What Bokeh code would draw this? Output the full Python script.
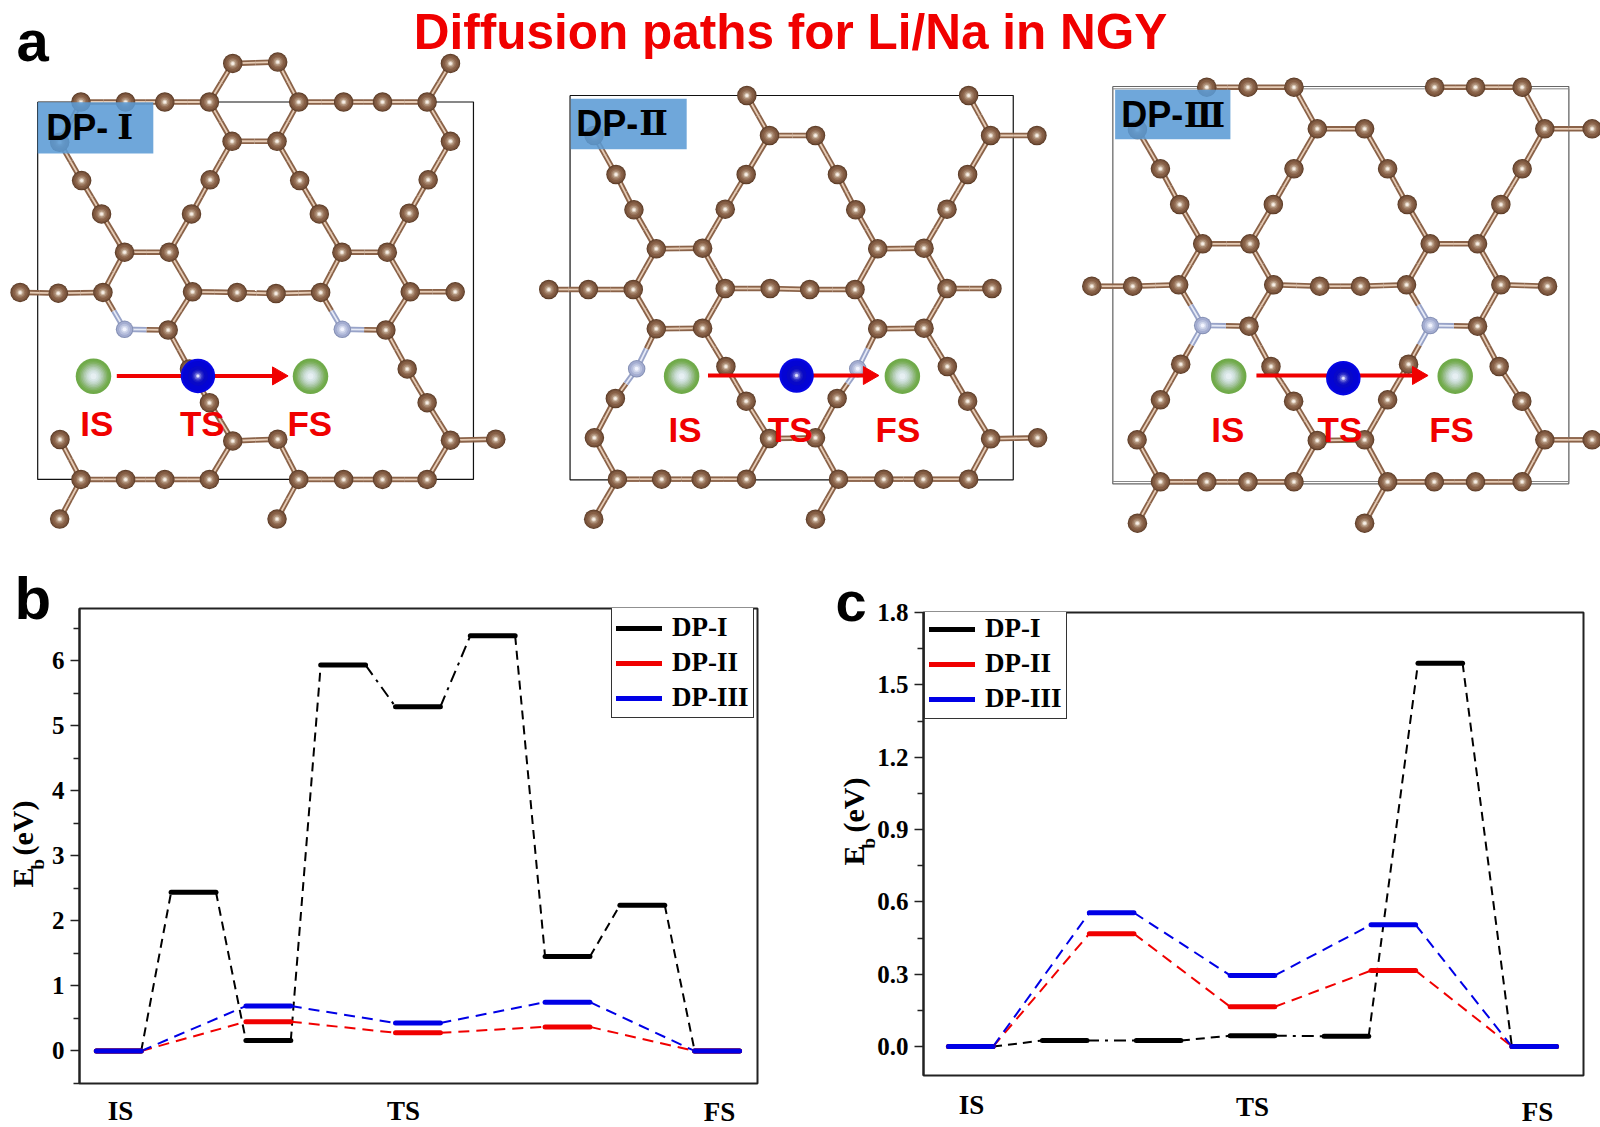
import math
from bokeh.plotting import figure
from bokeh.layouts import column, row
from bokeh.models import Legend, LegendItem, FixedTicker, NumeralTickFormatter
from bokeh.core.properties import value
from bokeh.embed import file_html
from bokeh.resources import INLINE

# ---------- panel a: atom sites ----------
dp1_cx = [687,820,238,370,486,618,882,1015,1130,1262,1331,175,685,818,1331,240,620,885,1265,299,565,943,1209,
          367,499,1010,1144,58,171,303,568,700,815,947,1212,1345,496,1140,1203,559,618,1262,176,687,820,1331,1465,
          238,370,486,618,882,1015,1130,1262,175,818]
dp1_cy = [181,177,292,292,292,292,292,292,292,292,181,408,405,405,405,518,516,518,516,614,614,614,612,
          724,724,724,724,840,842,840,838,840,843,840,838,838,948,948,1060,1060,1157,1157,1263,1267,1262,1265,1262,
          1378,1378,1378,1378,1378,1378,1378,1378,1492,1492]
dp1_nx = [367,1011]
dp1_ny = [946,946]

dp2_cx = [640,1296,188,707,843,1361,1498,253,638,908,1293,306,576,962,1232,372,509,1027,1164,
          54,171,304,576,709,826,960,1232,1365,372,509,1027,1164,578,1233,251,638,907,1293,
          189,707,843,1361,1500,257,388,505,639,911,1045,1162,1296,187,843]
dp2_cy = [105,105,225,225,225,225,225,342,342,342,342,448,446,448,446,565,563,565,563,
          687,687,687,684,684,687,687,684,684,805,803,805,803,918,918,1014,1022,1014,1022,
          1132,1134,1132,1135,1132,1256,1256,1256,1256,1256,1256,1256,1256,1376,1376]
dp2_nx = [314,968]
dp2_ny = [925,925]

dp3_cx = [403,525,661,1077,1198,1336,198,730,870,1403,1543,266,661,938,1336,323,600,996,1273,391,531,1064,1204,
          63,184,320,601,737,858,994,1273,1411,528,1204,326,593,1000,1268,266,660,938,1335,
          197,730,870,1403,1543,266,403,525,661,938,1076,1198,1336,198,870]
dp3_cy = [80,80,80,80,80,80,207,205,205,205,205,325,325,325,325,432,432,432,432,550,550,550,550,
          677,677,673,673,677,677,673,673,677,797,797,911,918,911,918,1018,1022,1018,1022,
          1138,1140,1138,1138,1138,1264,1264,1264,1264,1264,1264,1264,1264,1388,1388]
dp3_nx = [391,1064]
dp3_ny = [795,795]

state_names = ["IS", "TS", "FS"]
dp1_sites_x = [275,584,917]
dp1_sites_y = [1081,1080,1081]
dp1_names_x = [285,597,915]
dp1_names_y = 1218
dp2_sites_x = [447,787,1100]
dp2_sites_y = [947,945,947]
dp2_names_x = [457,768,1087]
dp2_names_y = 1108
dp3_sites_x = [468,807,1138]
dp3_sites_y = [947,953,947]
dp3_names_x = [465,797,1127]
dp3_names_y = 1108

# ---------- panels b and c: energy levels ----------
series_names = ["DP-I", "DP-II", "DP-III"]
series_colors = ["#000000", "#f00000", "#0000e6"]

b_x_black = [1,2,3,4,5,6,7,8,9]
b_black = [0,2.44,0.16,5.93,5.29,6.38,1.45,2.24,0]
b_x_color = [1,3,5,7,9]
b_red = [0,0.45,0.28,0.37,0]
b_blue = [0,0.69,0.43,0.75,0]

c_x_black = [1,3,5,7,9,11,13]
c_black = [0,0.025,0.025,0.045,0.043,1.59,0]
c_x_color = [1,4,7,10,13]
c_red = [0,0.468,0.165,0.315,0]
c_blue = [0,0.555,0.295,0.505,0]

SERIF = "Liberation Serif"
SANS = "Liberation Sans"
NUMERAL = "DejaVu Serif"
RED = "#f00000"

# ---------- page-wide figure: structures and all free text ----------
pa = figure(width=1600, height=1127, x_range=(0,1600), y_range=(1127,0), min_border=0,
            toolbar_location=None, output_backend="svg", outline_line_color=None)
pa.axis.visible = False
pa.grid.visible = False

def txt(p, x, y, s, size, color="#000000", font=SANS, align="center", base="middle", angle=0.0):
    p.text([x],[y],text=[s],text_font=value(font),text_font_size=f"{size}px",text_font_style="bold",
           text_color=color,text_align=align,text_baseline=base,angle=angle)

def balls(p, xs, ys, layers):
    for size,color in layers:
        p.scatter(xs, ys, size=size, marker="circle", fill_color=color, line_color=None)

C_LAYERS = [(19.5,"#5a3a24"),(18,"#74503a"),(15,"#865f45"),(11,"#97725a"),(8,"#ad9078"),(5,"#d6c3b0"),(3,"#f6eee6")]
N_LAYERS = [(17.5,"#8590b5"),(15.5,"#a3acd0"),(11,"#b9c1de"),(7,"#d2d8ec"),(4,"#f2f4ff")]
G_LAYERS = [(35.5,"#6faa49"),(31,"#76ad52"),(28,"#83b367"),(25,"#92ba81"),(22,"#a2c39a"),(19,"#b2cdb2"),
            (16,"#c0d6c6"),(13,"#cddfd8"),(10,"#d8e6e6"),(6,"#e6eff2")]
B_LAYERS = [(34.5,"#0606e4"),(30,"#0404d4"),(20,"#0808c8"),(13,"#1818c4"),(10,"#3030c8"),(7,"#6464d8"),(4,"#b0b0f0"),(2.5,"#e8e8ff")]

def panel(cx, cy, nx, ny, ox, oy, sx, sy, cut, rects, box, label, arrow, sx_list, sy_list, nm_x, nm_y):
    X = lambda v: ox + v/sx
    Y = lambda v: oy + v/sy
    for (l,r,t,b,col,w) in rects:
        pa.line([X(l),X(r),X(r),X(l),X(l)],[Y(t),Y(t),Y(b),Y(b),Y(t)],line_color=col,line_width=w)
    all_x = cx+nx; all_y = cy+ny
    kinds = ["c"]*len(cx)+["n"]*len(nx)
    outer = {"c":"#8a6248","n":"#98a3c8"}
    inner = {"c":"#e6ccb6","n":"#e6eaf6"}
    sg = {"x0":[],"y0":[],"x1":[],"y1":[],"o":[],"i":[]}
    for i in range(len(all_x)):
        for j in range(i+1,len(all_x)):
            d = math.hypot(all_x[i]-all_x[j],all_y[i]-all_y[j])
            if d < cut:
                mx,my = (all_x[i]+all_x[j])/2,(all_y[i]+all_y[j])/2
                for k,(a,b) in ((kinds[i],(all_x[i],all_y[i])),(kinds[j],(all_x[j],all_y[j]))):
                    sg["x0"].append(X(a)); sg["y0"].append(Y(b)); sg["x1"].append(X(mx)); sg["y1"].append(Y(my))
                    sg["o"].append(outer[k]); sg["i"].append(inner[k])
    pa.segment(sg["x0"],sg["y0"],sg["x1"],sg["y1"],line_color=sg["o"],line_width=5.5)
    pa.segment(sg["x0"],sg["y0"],sg["x1"],sg["y1"],line_color=sg["i"],line_width=1.8)
    balls(pa,[X(v) for v in cx],[Y(v) for v in cy],C_LAYERS)
    balls(pa,[X(v) for v in nx],[Y(v) for v in ny],N_LAYERS)
    l,r,t,b = box
    pa.quad(left=[X(l)],right=[X(r)],top=[Y(t)],bottom=[Y(b)],fill_color="#5b9bd5",fill_alpha=0.88,line_color=None)
    txt(pa,X(label[1]),Y(label[2]),label[0],36,align="left",font=SANS)
    txt(pa,X(label[4]),Y(label[2]),label[3],34,align="left",font=NUMERAL)
    ax0,ax1,ay = arrow
    pa.segment([X(ax0)],[Y(ay)],[X(ax1-38)],[Y(ay)],line_color=RED,line_width=4)
    pa.scatter([X(ax1-30)],[Y(ay)],marker="triangle",size=18,angle=-math.pi/2,fill_color=RED,line_color=RED)
    balls(pa,[X(sx_list[0]),X(sx_list[2])],[Y(sy_list[0]),Y(sy_list[2])],G_LAYERS)
    balls(pa,[X(sx_list[1])],[Y(sy_list[1])],B_LAYERS)
    for s,v in zip(state_names,nm_x):
        txt(pa,X(v),Y(nm_y),s,35,color=RED)

panel(dp1_cx,dp1_cy,dp1_nx,dp1_ny,0,0,2.958,2.877,145,
      [(110,1399,292,1378,"#111111",1.2)],(110,452,293,440),("DP-",135,365,"Ⅰ",345),(344,850,1080),
      dp1_sites_x,dp1_sites_y,dp1_names_x,dp1_names_y)
panel(dp2_cx,dp2_cy,dp2_nx,dp2_ny,530,60,2.958,3.0,148,
      [(117,1428,105,1258,"#111111",1.2)],(119,462,115,266),("DP-",135,188,"Ⅱ",322),(525,1030,945),
      dp2_sites_x,dp2_sites_y,dp2_names_x,dp2_names_y)
panel(dp3_cx,dp3_cy,dp3_nx,dp3_ny,1070,60,2.958,3.0,150,
      [(125,1474,78,1270,"#666666",1.2),(125,1474,85,1263,"#888888",1.0)],(132,473,88,236),("DP-",150,163,"Ⅲ",335),(550,1057,945),
      dp3_sites_x,dp3_sites_y,dp3_names_x,dp3_names_y)

txt(pa,790,31,"Diffusion paths for Li/Na in NGY",49.5,color=RED)
txt(pa,16,40,"a",58,align="left",base="alphabetic")
txt(pa,14,598,"b",60,align="left",base="alphabetic")
txt(pa,835,601,"c",56,align="left",base="alphabetic")

# axis titles of the charts (the subscript is a separate piece)
for ax,e,b_,ev in ((22,887,869,855),(853,865,848,832)):
    txt(pa,ax,e,"E",30,font=SERIF,align="left",angle=math.pi/2)
    txt(pa,ax+15,b_,"b",19,font=SERIF,align="left",angle=math.pi/2)
    txt(pa,ax,ev,"(eV)",30,font=SERIF,align="left",angle=math.pi/2)

for s,x,y in zip(state_names,[120,403,719],[1110,1110,1111]):
    txt(pa,x,y,s,27,font=SERIF)
for s,x,y in zip(state_names,[971,1252,1537],[1104,1106,1111]):
    txt(pa,x,y,s,27,font=SERIF)

# ---------- energy charts ----------
def energy(frame_w, frame_h, left, right, top, bottom, xr, yr, major, minor, fmt, hw, sets, legend_loc, margin):
    p = figure(frame_width=frame_w, frame_height=frame_h, x_range=xr, y_range=yr,
               min_border_left=left, min_border_right=right, min_border_top=top, min_border_bottom=bottom,
               toolbar_location=None, output_backend="svg", margin=margin,
               outline_line_color="#222222", outline_line_width=2,
               border_fill_alpha=0, background_fill_alpha=0)
    p.grid.visible = False
    p.xaxis.visible = False
    a = p.yaxis[0]
    a.ticker = FixedTicker(ticks=major, minor_ticks=minor)
    if fmt: a.formatter = NumeralTickFormatter(format=fmt)
    a.major_tick_out = 9; a.major_tick_in = 0
    a.minor_tick_out = 6; a.minor_tick_in = 0
    a.major_tick_line_width = 1.5; a.minor_tick_line_width = 1.5
    a.major_tick_line_color = "#222222"; a.minor_tick_line_color = "#222222"
    a.axis_line_color = "#222222"; a.axis_line_width = 2
    a.major_label_standoff = 6
    a.major_label_text_font = SERIF
    a.major_label_text_font_size = "25px"
    a.major_label_text_font_style = "bold"
    a.major_label_text_color = "#000000"
    items = []
    for name,color,xs,ys,dd,lw in sets:
        for i in range(len(xs)-1):
            dash = "12 6 3 6" if i in dd else ("9 6" if color == "#000000" else "11 7")
            p.line([xs[i]+hw,xs[i+1]-hw],[ys[i],ys[i+1]],line_color=color,line_width=2,line_dash=dash)
    for name,color,xs,ys,dd,lw in sets:
        r = p.multi_line([[v-hw,v+hw] for v in xs],[[v,v] for v in ys],line_color=color,line_width=lw,line_cap="round")
        items.append(LegendItem(label=value(name),renderers=[r]))
    lg = Legend(items=items,location=legend_loc,padding=4,margin=0,spacing=4,glyph_width=46,glyph_height=20,
                label_height=28,label_standoff=10,label_text_font=SERIF,label_text_font_size="27px",
                label_text_font_style="bold",label_text_color="#000000",border_line_color="#333333",border_line_width=1.2,
                border_line_alpha=1.0,background_fill_alpha=1.0)
    p.add_layout(lg)
    return p

pb = energy(678,475,79,43,48,44,(0.475,9.54),(-0.5,6.8),[0,1,2,3,4,5,6],[-0.5,0.5,1.5,2.5,3.5,4.5,5.5,6.5],None,0.3,
            [(series_names[0],series_colors[0],b_x_black,b_black,{3,4},5),
             (series_names[1],series_colors[1],b_x_color,b_red,set(),5),
             (series_names[2],series_colors[2],b_x_color,b_blue,set(),5)],(532,365),(0,0,0,0))
pc = energy(660,463,123,17,48,52,(-0.007,14.05),(-0.12,1.8),[0,0.3,0.6,0.9,1.2,1.5,1.8],
            [0.15,0.45,0.75,1.05,1.35,1.65],"0.0",0.475,
            [(series_names[0],series_colors[0],c_x_black,c_black,{1,3},5),
             (series_names[1],series_colors[1],c_x_color,c_red,set(),5),
             (series_names[2],series_colors[2],c_x_color,c_blue,set(),5)],(1,356),(4,0,0,0))

out = column(pa,row(pb,pc,margin=(-567,0,0,0)))
open("out.html","w").write(file_html(out,INLINE))
